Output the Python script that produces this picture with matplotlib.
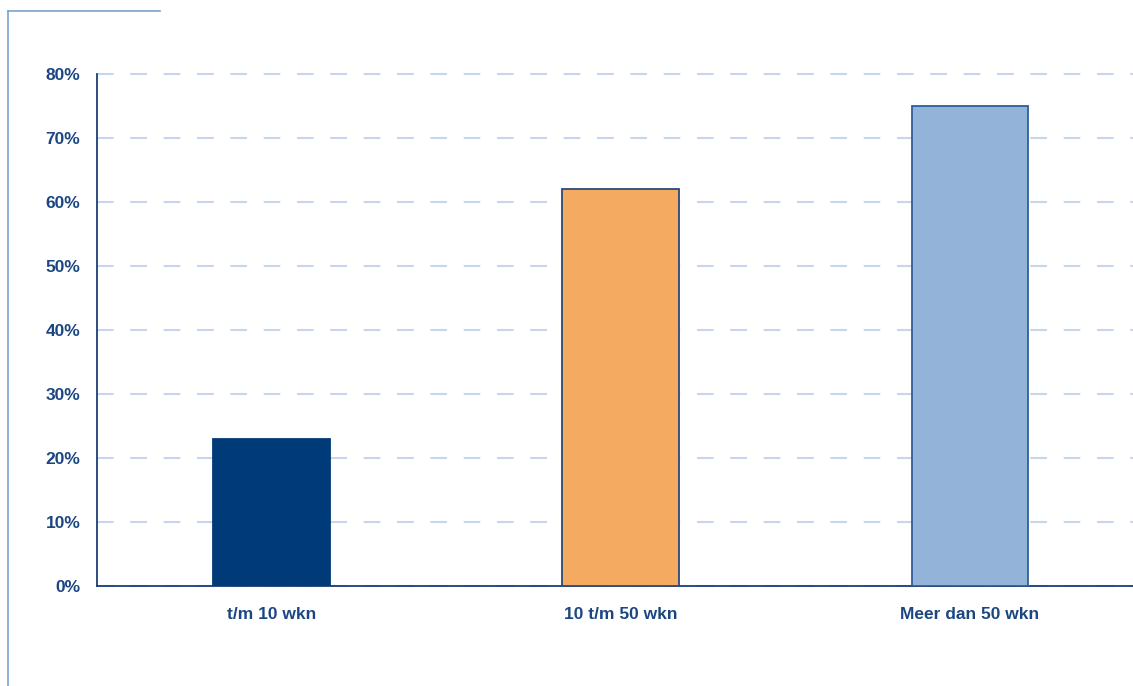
import matplotlib
matplotlib.use("Agg")
import matplotlib.pyplot as plt
from matplotlib.lines import Line2D
from matplotlib.ticker import FuncFormatter

categories = ["t/m 10 wkn", "10 t/m 50 wkn", "Meer dan 50 wkn"]
values = [0.23, 0.62, 0.75]
bar_colors = ["#003a78", "#f5aa61", "#93b3d9"]
edge_colors = ["#003a78", "#2b4a78", "#2f5e9c"]
yticks = [0, 0.1, 0.2, 0.3, 0.4, 0.5, 0.6, 0.7, 0.8]

navy = "#1c4682"
W, H = 1133, 686
fig = plt.figure(figsize=(W / 100, H / 100), dpi=100)
ax = fig.add_axes([97 / W, (H - 586) / H, 1 - 97 / W, (586 - 74) / H])

x = list(range(len(categories)))
ax.bar(x, values, width=0.333, color=bar_colors, edgecolor=edge_colors,
       linewidth=1.3, zorder=3)

ax.set_xlim(-0.5, 2.468)
ax.set_ylim(0, 0.8)
ax.set_yticks(yticks)
ax.yaxis.set_major_formatter(FuncFormatter(lambda v, p: f"{v * 100:.0f}%"))
ax.set_xticks(x)
ax.set_xticklabels(categories)

ax.yaxis.grid(True, color="#c6d5ec", lw=1.5, linestyle=(0, (8, 8)), zorder=0)
ax.set_axisbelow(True)
for gl in ax.yaxis.get_gridlines():
    gl.set_clip_on(False)

for s in ("top", "right"):
    ax.spines[s].set_visible(False)
for s in ("left", "bottom"):
    ax.spines[s].set_color("#1b3f78")
    ax.spines[s].set_linewidth(1.3)

ax.tick_params(axis="both", length=0, colors=navy, labelsize=12.5)
ax.tick_params(axis="y", pad=12)
ax.tick_params(axis="x", pad=15)
for lab in ax.get_xticklabels() + ax.get_yticklabels():
    lab.set_fontweight("bold")
    lab.set_fontfamily("Liberation Sans")

# thin frame at the top-left
frame_c = "#7ba3d0"
fig.add_artist(Line2D([8 / W, 160 / W], [(H - 11) / H, (H - 11) / H],
                      transform=fig.transFigure, color=frame_c, lw=1.2))
fig.add_artist(Line2D([8 / W, 8 / W], [(H - 11) / H, 0],
                      transform=fig.transFigure, color=frame_c, lw=1.2))

fig.savefig("out.png", dpi=100)
